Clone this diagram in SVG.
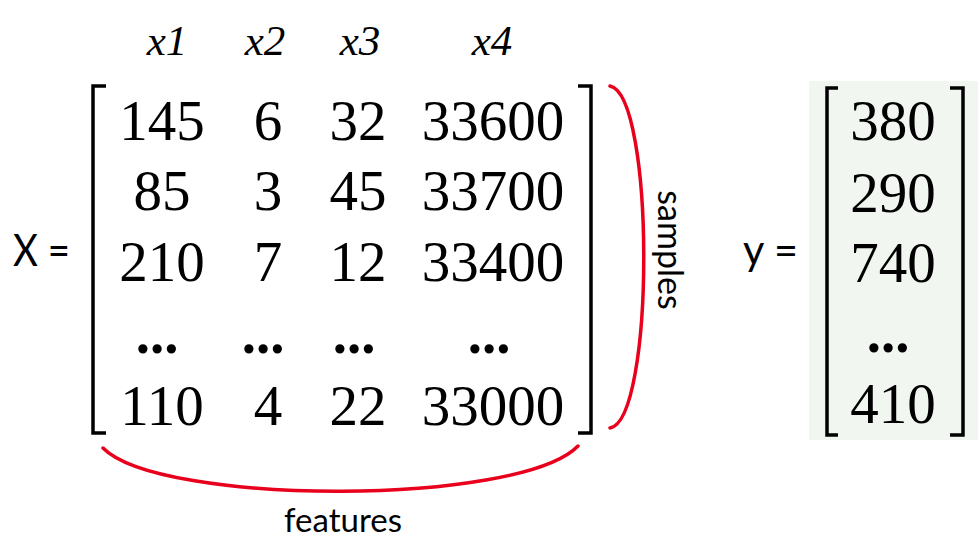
<svg xmlns="http://www.w3.org/2000/svg" width="980" height="549" viewBox="0 0 980 549">
<style>
.num{font-family:"Liberation Serif",serif;font-size:57px;fill:#000;text-anchor:middle}
.dots{font-family:"Liberation Serif",serif;font-size:57px;font-weight:bold;fill:#000;text-anchor:middle}
.hdr{font-family:"Liberation Serif",serif;font-style:italic;font-size:43px;fill:#000;text-anchor:middle}
.lbl{font-family:Lato,"Open Sans",sans-serif;fill:#000}
.brk{fill:none;stroke:#000;stroke-width:3.5;stroke-linejoin:miter}
.brace{fill:none;stroke:#e8001c;stroke-width:3.5;stroke-linecap:round}
</style>
<rect width="980" height="549" fill="#fff"/>
<g id="headers">
<text class="hdr" x="167" y="55">x1</text>
<text class="hdr" x="265" y="55">x2</text>
<text class="hdr" x="360" y="55">x3</text>
<text class="hdr" x="492" y="55">x4</text>
</g>
<g id="X-matrix">
<text class="lbl" x="13" y="266" font-size="44" textLength="57" lengthAdjust="spacingAndGlyphs">X =</text>
<path class="brk" d="M106,86 H93 V433 H106"/>
<path class="brk" d="M578,86 H591 V433 H578"/>
<text class="num" x="162" y="140">145</text>
<text class="num" x="268" y="140">6</text>
<text class="num" x="358" y="140">32</text>
<text class="num" x="493" y="140">33600</text>
<text class="num" x="162" y="210">85</text>
<text class="num" x="268" y="210">3</text>
<text class="num" x="358" y="210">45</text>
<text class="num" x="493" y="210">33700</text>
<text class="num" x="162" y="281">210</text>
<text class="num" x="268" y="281">7</text>
<text class="num" x="358" y="281">12</text>
<text class="num" x="493" y="281">33400</text>
<text class="dots" x="157" y="353">...</text>
<text class="dots" x="263" y="353">...</text>
<text class="dots" x="354" y="353">...</text>
<text class="dots" x="489" y="353">...</text>
<text class="num" x="162" y="425">110</text>
<text class="num" x="268" y="425">4</text>
<text class="num" x="358" y="425">22</text>
<text class="num" x="493" y="425">33000</text>
</g>
<g id="connectors">
<path class="brace" d="M103,448 C160,506 520,506 578,446"/>
<path class="brace" d="M610,86 C655,95 655,420 610,428"/>
</g>
<g id="features-label">
<text class="lbl" x="343" y="532" font-size="33" text-anchor="middle">features</text>
</g>
<g id="samples-label">
<text class="lbl" font-size="34" text-anchor="middle" transform="translate(658,250) rotate(90)">samples</text>
</g>
<g id="y-vector">
<text class="lbl" x="743" y="265" font-size="42" textLength="55" lengthAdjust="spacingAndGlyphs">y =</text>
<rect x="809" y="81" width="169" height="359" fill="#f1f7f0"/>
<path class="brk" d="M838,88 H827 V435 H838"/>
<path class="brk" d="M950,88 H963 V435 H950"/>
<text class="num" x="893" y="140">380</text>
<text class="num" x="893" y="212">290</text>
<text class="num" x="893" y="282">740</text>
<text class="dots" x="888" y="352">...</text>
<text class="num" x="893" y="423">410</text>
</g>
</svg>
